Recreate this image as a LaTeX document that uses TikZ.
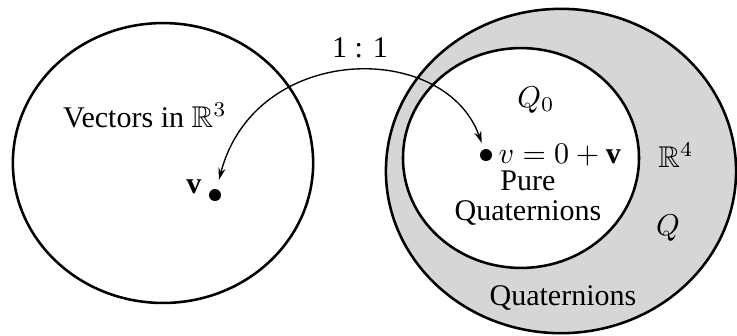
\documentclass[tikz,border=0pt]{standalone}
\usepackage{fontspec}
\setmainfont{Liberation Serif}
\usepackage{amsmath,amssymb}
\usetikzlibrary{arrows.meta,calc}

\begin{document}
\begin{tikzpicture}[x = 0.333pt, y = -0.333pt,
  ring/.style = {line width = 0.85pt},
  dot/.style = {circle, fill, inner sep = 0pt, minimum size = 4pt},
  lbl/.style = {inner sep = 0pt, font = \fontsize{10}{10}\selectfont}]
\useasboundingbox (0,0) rectangle (737,335);
% sets
\path[draw, ring](163,163) ellipse [x radius = 50pt, y radius = 46.6pt];
\path[draw, ring, fill = gray!32](561,171) ellipse [x radius = 58.3pt, y radius = 54pt];
\path[draw, ring, fill = white](521,158) ellipse [x radius = 39.3pt, y radius = 36.6pt];
% points
\node[dot](v) at (215,195) {};
\node[dot](q) at (486,155) {};
\node[lbl](vlab) at (194,187) {$\mathbf{v}$};
\node[lbl, anchor = west](qlab) at (498,155) {$v = 0 + \mathbf{v}$};
% labels
\node[lbl](rthree) at (145,115) {Vectors in $\mathbb{R}^3$};
\node[lbl](qzero) at (536,100) {$Q_0$};
\node[lbl, align = center](pure) at (528,198) {Pure\\Quaternions};
\node[lbl](rfour) at (676,155) {$\mathbb{R}^4$};
\node[lbl](qfull) at (668,228) {$Q$};
\node[lbl](quat) at (563,298) {Quaternions};
% map
\path[draw, line width = 0.45pt, {Stealth[length = 4pt, width = 2.4pt]}-{Stealth[length = 4pt, width = 2.4pt]}, shorten <= 3pt, shorten >= 2pt](v) .. controls (255,42) and (445,40) .. (q);
\node[lbl](map) at (360,48) {1 : 1};
\end{tikzpicture}
\end{document}
